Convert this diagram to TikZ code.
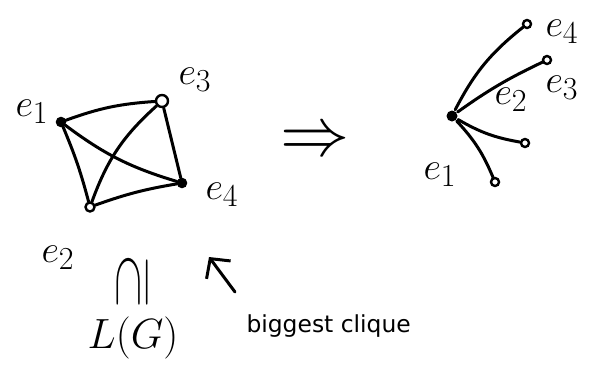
\documentclass[tikz,border=0pt]{standalone}
\usepackage{fontspec}
\setsansfont{DejaVu Sans}
\usetikzlibrary{arrows.meta}

\begin{document}
\begin{tikzpicture}[x=1bp, y=-1bp, line width=3bp, line cap=round,
  vertex/.style={circle, draw, inner sep=0pt, minimum size=8bp, line width=2.4bp},
  hub/.style={circle, fill, inner sep=0pt, minimum size=11bp},
  lbl/.style={inner sep=0pt, font=\Huge, scale=1.55, transform shape}]
\useasboundingbox (0,0) rectangle (597,383);
% clique
\node[vertex, fill] (v1) at (61,122) {};
\node[vertex, minimum height=12bp] (v3) at (162,101) {};
\node[vertex, fill] (v4) at (182,183) {};
\node[vertex, minimum size=9bp] (v2) at (90,207) {};
\node[lbl] (t1) at (32,112) {$e_1$};
\node[lbl] (t3) at (195,80) {$e_3$};
\node[lbl] (t4) at (222,195) {$e_4$};
\node[lbl] (t2) at (58,258) {$e_2$};
\draw (v1) to[bend left=8] (v3);
\draw (v1) to[bend left=4] (v2);
\draw (v1) to[bend right=10] (v4);
\draw (v3) to[bend right=14] (v2);
\draw (v3) -- (v4);
\draw (v2) to[bend left=5] (v4);
% implies
\node[lbl, scale=1.8] (imp) at (315,143) {$\Rightarrow$};
% star
\node[hub] (h) at (452,116) {};
\node[vertex] (s4) at (527,24) {};
\node[vertex] (s3) at (547,60) {};
\node[vertex] (s2) at (525,143) {};
\node[vertex] (s1) at (495,182) {};
\node[lbl] (u4) at (562,32) {$e_4$};
\node[lbl] (u3) at (562,88) {$e_3$};
\node[lbl] (u2) at (511,100) {$e_2$};
\node[lbl] (u1) at (440,175) {$e_1$};
\draw (h) to[bend left=12] (s4);
\draw (h) to[bend left=5] (s3);
\draw (h) to[bend right=10] (s2);
\draw (h) to[bend left=10] (s1);
% below
\node[lbl, rotate=90, scale=1.9] (sub) at (132,282) {\scalebox{1.05}[0.55]{$\supseteq$}};
\node[lbl, scale=1.1] (lg) at (133,338) {$L(G)$};
\coordinate (tip) at (209,257);
\coordinate (tail) at (235,292);
\draw[-{Straight Barb[length=14bp, width=30bp]}] (tail) -- (tip);
\node[anchor=base west, inner sep=0pt, font=\sffamily\fontsize{23.5}{23.5}\selectfont] (bc) at (245,332) {biggest clique};
\end{tikzpicture}
\end{document}
